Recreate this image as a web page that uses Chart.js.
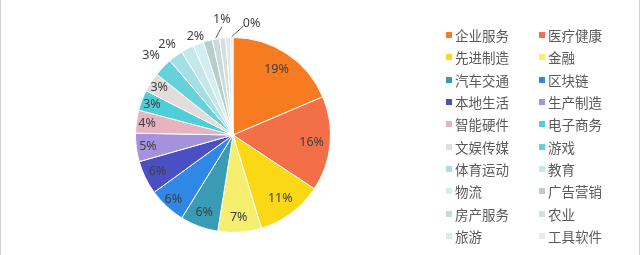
<!DOCTYPE html>
<html>
<head>
<meta charset="utf-8">
<script src="https://cdn.jsdelivr.net/npm/chart.js@4.4.0/dist/chart.umd.min.js"></script>
<style>
  html, body { margin: 0; padding: 0; background: #fff; }
  #wrap { position: relative; width: 640px; height: 255px; overflow: hidden; box-sizing: border-box;
          border-left: 1px solid #d0d0d0; border-right: 1px solid #d0d0d0; }
  #pieBox { position: absolute; left: 0; top: 0; width: 464px; height: 255px; }
  #legend { position: absolute; left: 445px; top: 24px; width: 194px;
            font: 13.5px "Noto Sans CJK SC", sans-serif; color: #5a5a5a;
            display: grid; grid-template-columns: 93px 93px; grid-auto-rows: 22.3px; }
  .item { display: flex; align-items: center; white-space: nowrap; }
  .sw { width: 6px; height: 6px; margin-right: 3px; flex: none; }
</style>
</head>
<body>
<div id="wrap">
  <div id="pieBox"><canvas id="pieChart"></canvas></div>
  <div id="legend"></div>
</div>
<script>
// categories and their share (%)
const categories = ['企业服务', '医疗健康', '先进制造', '金融', '汽车交通', '区块链', '本地生活', '生产制造',
  '智能硬件', '电子商务', '文娱传媒', '游戏', '体育运动', '教育', '物流', '广告营销', '房产服务', '农业', '旅游', '工具软件'];
const shares = [18.6, 15.7, 11.0, 7.2, 6.3, 6.2, 5.6, 4.7, 3.8, 3.4, 3.2, 3.1, 2.4, 2.1, 1.8, 1.5, 1.2, 1.0, 0.8, 0.4];
const colors = ['#F77B20', '#F26F48', '#FBD816', '#F6EE6E', '#3A9BB5', '#2F87E6', '#4A4FC4', '#A592DC',
  '#E7B3C1', '#4FCED8', '#E2DCDC', '#66D1D9', '#A6DFE3', '#C2E8EA', '#D3EEF0', '#B7CFCB', '#C9DBD8', '#D3E0DE', '#DDE9E8', '#E3ECEB'];

// where each shown percentage label sits (fraction of radius, optional nudge)
const labelSpots = {
  0: { r: 0.81 }, 1: { r: 0.81 }, 2: { r: 0.81 }, 3: { r: 0.85 }, 4: { r: 0.85 }, 5: { r: 0.9 },
  6: { r: 0.86 }, 7: { r: 0.88 }, 8: { r: 0.89 }, 9: { r: 0.89 }, 10: { r: 0.9 }, 11: { r: 1.17 },
  12: { r: 1.15 }, 14: { r: 1.08 },
  16: { r: 1.18, dx: 9, dy: -2, leader: true },
  19: { r: 1.14, dx: 20, dy: 0, leader: true }
};

const total = shares.reduce((a, b) => a + b, 0);

const sliceLabels = {
  id: 'sliceLabels',
  afterDatasetsDraw(chart) {
    const ctx = chart.ctx;
    const meta = chart.getDatasetMeta(0);
    ctx.save();
    ctx.font = '12.5px "Noto Sans", sans-serif';
    ctx.fillStyle = '#404040';
    ctx.strokeStyle = '#595959';
    ctx.lineWidth = 1;
    ctx.textAlign = 'center';
    ctx.textBaseline = 'middle';
    meta.data.forEach((arc, i) => {
      const spot = labelSpots[i];
      if (!spot) return;
      const p = arc.getProps(['x', 'y', 'startAngle', 'endAngle', 'outerRadius'], true);
      const mid = (p.startAngle + p.endAngle) / 2;
      const r = p.outerRadius * spot.r;
      const lx = p.x + Math.cos(mid) * r + (spot.dx || 0);
      const ly = p.y + Math.sin(mid) * r + (spot.dy || 0);
      if (spot.leader) {
        const ex = p.x + Math.cos(mid) * p.outerRadius * 1.01;
        const ey = p.y + Math.sin(mid) * p.outerRadius * 1.01;
        ctx.beginPath();
        ctx.moveTo(ex, ey);
        if (Math.abs(lx - ex) > 12) {
          ctx.lineTo(lx - 8, ly + 2);
        } else {
          ctx.lineTo(lx, ly + 7);
        }
        ctx.stroke();
      }
      ctx.fillText(Math.round(shares[i] / total * 100) + '%', lx, ly);
    });
    ctx.restore();
  }
};

new Chart(document.getElementById('pieChart'), {
  type: 'pie',
  data: {
    labels: categories,
    datasets: [{
      data: shares,
      backgroundColor: colors,
      borderColor: '#ffffff',
      borderWidth: 1
    }]
  },
  options: {
    responsive: true,
    maintainAspectRatio: false,
    animation: false,
    layout: { padding: { top: 37, bottom: 22, left: 0, right: 0 } },
    plugins: {
      legend: { display: false },
      tooltip: { enabled: false }
    }
  },
  plugins: [sliceLabels]
});

// legend, two columns row by row
const legend = document.getElementById('legend');
categories.forEach((name, i) => {
  const item = document.createElement('div');
  item.className = 'item';
  const sw = document.createElement('span');
  sw.className = 'sw';
  sw.style.background = colors[i];
  const txt = document.createElement('span');
  txt.textContent = name;
  item.appendChild(sw);
  item.appendChild(txt);
  legend.appendChild(item);
});
</script>
</body>
</html>
